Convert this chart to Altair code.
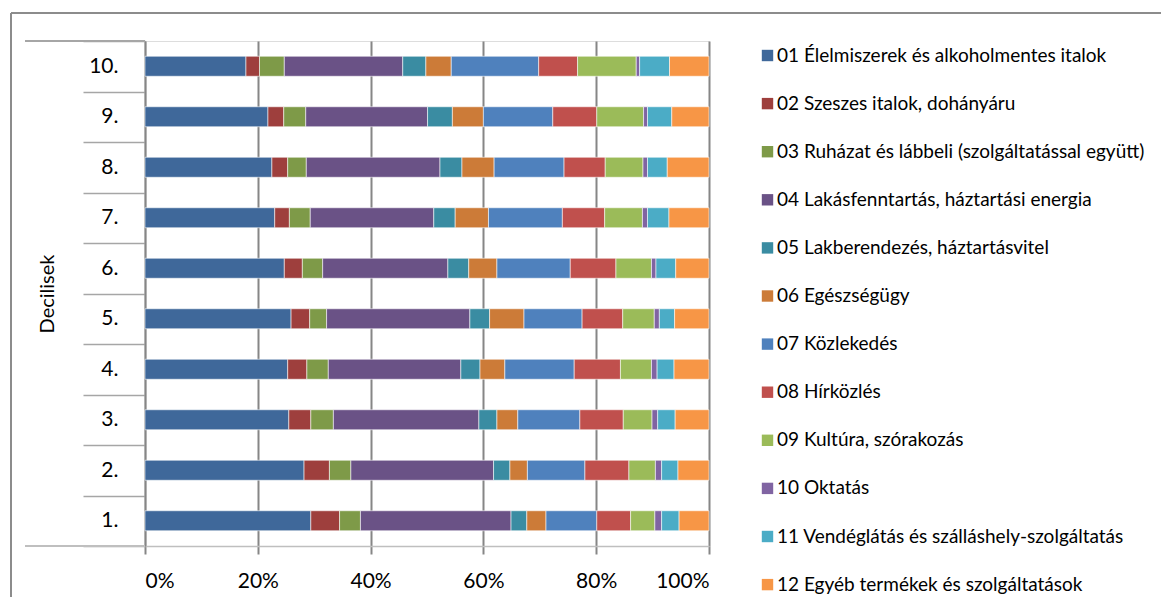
import altair as alt
import pandas as pd

categories = [
    "01 Élelmiszerek és alkoholmentes italok",
    "02 Szeszes italok, dohányáru",
    "03 Ruházat és lábbeli (szolgáltatással együtt)",
    "04 Lakásfenntartás, háztartási energia",
    "05 Lakberendezés, háztartásvitel",
    "06 Egészségügy",
    "07 Közlekedés",
    "08 Hírközlés",
    "09 Kultúra, szórakozás",
    "10 Oktatás",
    "11 Vendéglátás és szálláshely-szolgáltatás",
    "12 Egyéb termékek és szolgáltatások",
]
colors = ["#3F689A", "#9E3F3D", "#7E9A48", "#6A5286", "#3A8CA2", "#CC7B38",
          "#4F81BD", "#C0504D", "#9BBB59", "#8064A2", "#4BACC6", "#F79646"]

deciles = ["1.", "2.", "3.", "4.", "5.", "6.", "7.", "8.", "9.", "10."]

# shares (%) per decile, in category order 01..12
d1 = [29.4, 5.1, 3.7, 26.7, 2.8, 3.4, 9.0, 6.0, 4.3, 1.2, 3.1, 5.3]
d2 = [28.2, 4.5, 3.8, 25.3, 2.9, 3.1, 10.2, 7.8, 4.7, 1.1, 2.9, 5.5]
d3 = [25.5, 3.9, 4.0, 25.8, 3.2, 3.7, 11.0, 7.7, 5.1, 1.0, 3.1, 6.0]
d4 = [25.3, 3.4, 3.8, 23.5, 3.4, 4.4, 12.3, 8.2, 5.5, 1.0, 3.0, 6.2]
d5 = [25.9, 3.3, 3.0, 25.4, 3.5, 6.1, 10.3, 7.2, 5.6, 0.9, 2.7, 6.1]
d6 = [24.7, 3.2, 3.6, 22.2, 3.7, 5.0, 13.0, 8.1, 6.3, 0.8, 3.5, 5.9]
d7 = [23.0, 2.6, 3.7, 21.9, 3.8, 5.9, 13.1, 7.5, 6.7, 0.9, 3.8, 7.1]
d8 = [22.5, 2.8, 3.3, 23.7, 3.9, 5.7, 12.4, 7.3, 6.7, 0.8, 3.5, 7.4]
d9 = [21.8, 2.8, 3.9, 21.6, 4.4, 5.5, 12.3, 7.8, 8.3, 0.7, 4.3, 6.6]
d10 = [17.9, 2.4, 4.4, 21.0, 4.1, 4.5, 15.5, 6.9, 10.4, 0.6, 5.3, 7.0]

x_ticks = [0, 0.2, 0.4, 0.6, 0.8, 1.0]

rows = []
for dec, vals in zip(deciles, [d1, d2, d3, d4, d5, d6, d7, d8, d9, d10]):
    for i, (cat, v) in enumerate(zip(categories, vals)):
        rows.append({"decile": dec, "category": cat, "value": v, "order": i})
df = pd.DataFrame(rows)

W, H = 564, 505
FONT = "Lato"

bars = alt.Chart(df).mark_bar(size=20, stroke="#ffffff", strokeWidth=0.8, strokeOpacity=0.7).encode(
    x=alt.X("value:Q", stack="normalize",
            scale=alt.Scale(domain=[0, 1], nice=False),
            axis=alt.Axis(format="%", values=x_ticks, title=None,
                          grid=True, gridColor="#868686", gridWidth=2,
                          domainColor="#BFBFBF", domainWidth=1.5,
                          tickColor="#868686", tickWidth=2, tickSize=8,
                          labelPadding=16, labelFontSize=21, labelFont=FONT,
                          labelColor="#000000")),
    y=alt.Y("decile:N", sort=list(reversed(deciles)),
            scale=alt.Scale(paddingInner=0, paddingOuter=0),
            axis=alt.Axis(title="Decilisek", titleFont=FONT, titleFontSize=20,
                          titleFontWeight="normal", titleColor="#000000",
                          titleX=-88, titleY=H / 2, titleAngle=270,
                          tickBand="extent", tickSize=62, tickColor="#A6A6A6",
                          tickWidth=1.5, domainColor="#868686", domainWidth=1.5,
                          labelPadding=-35, labelFontSize=21, labelFont=FONT,
                          labelColor="#000000", grid=False)),
    color=alt.Color("category:N", scale=alt.Scale(domain=categories, range=colors),
                    legend=alt.Legend(title=None, orient="none", legendX=613, legendY=5,
                                      symbolType="square", symbolSize=130,
                                      symbolStrokeWidth=0, labelFont=FONT,
                                      labelFontSize=19, labelColor="#000000",
                                      labelLimit=500, rowPadding=28.1,
                                      labelOffset=0, padding=0)),
    order=alt.Order("order:Q"),
)

top_line = alt.Chart(df).mark_rule(color="#A6A6A6", strokeWidth=1.5).encode(
    x=alt.value(-120), x2=alt.value(0), y=alt.value(0))
bottom_line = alt.Chart(df).mark_rule(color="#BFBFBF", strokeWidth=1.5).encode(
    x=alt.value(-120), x2=alt.value(0), y=alt.value(H))
frame_top = alt.Chart(df).mark_rule(color="#8C8C8C", strokeWidth=1.5).encode(
    x=alt.value(-134), x2=alt.value(1100), y=alt.value(-28))
frame_left = alt.Chart(df).mark_rule(color="#8C8C8C", strokeWidth=1.5).encode(
    x=alt.value(-134), y=alt.value(-28), y2=alt.value(H + 100))

chart = alt.layer(bars, top_line, bottom_line, frame_top, frame_left).properties(
    width=W, height=H,
    autosize=alt.AutoSizeParams(type="none"),
    padding={"left": 137, "top": 33, "right": 452, "bottom": 51},
).configure_view(stroke=None).configure(background="#ffffff")

chart.save("out.html", embed_options={"renderer": "svg", "actions": False})
